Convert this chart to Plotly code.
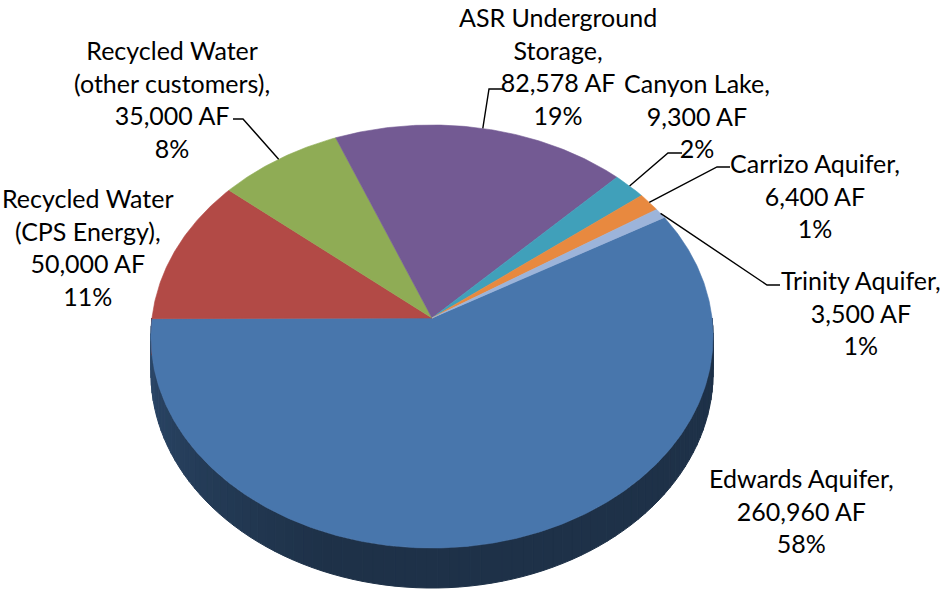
import numpy as np
import plotly.graph_objects as go

# ---- data -------------------------------------------------------------
sources = ["Edwards Aquifer", "Recycled Water (CPS Energy)",
           "Recycled Water (other customers)", "ASR Underground Storage",
           "Canyon Lake", "Carrizo Aquifer", "Trinity Aquifer"]
name_lines = ["Edwards Aquifer,", "Recycled Water<br>(CPS Energy),",
              "Recycled Water<br>(other customers),", "ASR Underground<br>Storage,",
              "Canyon Lake,", "Carrizo Aquifer,", "Trinity Aquifer,"]
acre_feet = [260960, 50000, 35000, 82578, 9300, 6400, 3500]
percent_labels = [58, 11, 8, 19, 2, 1, 1]
colors = ["#4876AC", "#B24A46", "#8FAC55", "#735A93", "#40A0BA", "#E8893F", "#9CB4DA"]

# ---- 3-D pie geometry (pixel space) ------------------------------------
W, H = 941, 590
CX, CY = 432, 318          # pie centre
RX, RY = 280, 209.9        # horizontal / vertical radius of the disc
PERSP = 0.0875             # perspective foreshortening
DEPTH = 36.5               # thickness of the disc
FIRST_SLICE_ANGLE = 60     # degrees clockwise from 12 o'clock


def project(theta_deg, z=0.0):
    t = np.radians(theta_deg)
    X, Y = np.sin(t), np.cos(t)
    d = 1 + PERSP * Y
    return CX + RX * X / d, CY - (RY * Y + DEPTH * z) / d


def hex_rgb(h):
    h = h.lstrip("#")
    return tuple(int(h[i:i + 2], 16) for i in (0, 2, 4))


def shade(h, f):
    r, g, b = hex_rgb(h)
    return f"rgb({int(r * f)},{int(g * f)},{int(b * f)})"


total = float(sum(acre_feet))
edges = FIRST_SLICE_ANGLE + 360 * np.concatenate([[0], np.cumsum(acre_feet)]) / total

fig = go.Figure()

# side wall (only the front half of the disc is visible)
for i, col in enumerate(colors):
    a0, a1 = edges[i], edges[i + 1]
    for off in (-360, 0, 360):
        lo, hi = max(a0, 90 + off), min(a1, 270 + off)
        if hi <= lo:
            continue
        n = max(2, int((hi - lo) / 2))
        cuts = np.linspace(lo, hi, n + 1)
        for s0, s1 in zip(cuts[:-1], cuts[1:]):
            ts = np.linspace(s0, s1, 6)
            xt, yt = project(ts, 0)
            xb, yb = project(ts[::-1], -1)
            mid = ((s0 + s1) / 2) % 360
            f = 0.42 + 0.2 * np.clip((mid - 200) / 70, 0, 1)
            c = shade(col, f)
            fig.add_trace(go.Scatter(
                x=np.concatenate([xt, xb, xt[:1]]), y=np.concatenate([yt, yb, yt[:1]]),
                mode="lines", fill="toself", fillcolor=c,
                line=dict(color=c, width=1), hoverinfo="skip", showlegend=False))

# top surface slices
for i, col in enumerate(colors):
    ts = np.linspace(edges[i], edges[i + 1], max(3, int((edges[i + 1] - edges[i]) * 2)))
    xr, yr = project(ts, 0)
    fig.add_trace(go.Scatter(
        x=np.concatenate([[CX], xr, [CX]]), y=np.concatenate([[CY], yr, [CY]]),
        mode="lines", fill="toself", fillcolor=col,
        line=dict(color=col, width=0.6), name=sources[i],
        hoverinfo="name", showlegend=False))

# ---- labels -----------------------------------------------------------
# label block centre and optional leader elbow (start, bend)
label_pos = [(801, 510), (88, 247), (172, 99), (558, 66), (697, 115), (815, 195), (861, 312)]
leader_elbow = [None, None, ((233, 119), (243, 119)), ((503, 89), (489, 89)),
                ((682, 153), (668, 153)), ((730, 167), (717, 167)),
                ((780, 285), (767, 285))]

for i in range(len(sources)):
    txt = f"{name_lines[i]}<br>{acre_feet[i]:,} AF<br>{percent_labels[i]}%"
    fig.add_annotation(x=label_pos[i][0], y=label_pos[i][1], text=txt,
                       showarrow=False, xanchor="center", yanchor="middle", align="center",
                       font=dict(family="Lato", size=25, color="#000000"))
    if leader_elbow[i] is not None:
        mid = (edges[i] + edges[i + 1]) / 2
        rx, ry = project(mid, 0)
        (x0, y0), (x1, y1) = leader_elbow[i]
        fig.add_trace(go.Scatter(x=[x0, x1, rx], y=[y0, y1, ry], mode="lines",
                                 line=dict(color="#000000", width=1.4),
                                 hoverinfo="skip", showlegend=False))

fig.update_layout(
    width=W, height=H, margin=dict(l=0, r=0, t=0, b=0),
    paper_bgcolor="white", plot_bgcolor="white",
    xaxis=dict(range=[0, W], visible=False, fixedrange=True),
    yaxis=dict(range=[H, 0], visible=False, fixedrange=True),
)

fig.write_html("out.html")
